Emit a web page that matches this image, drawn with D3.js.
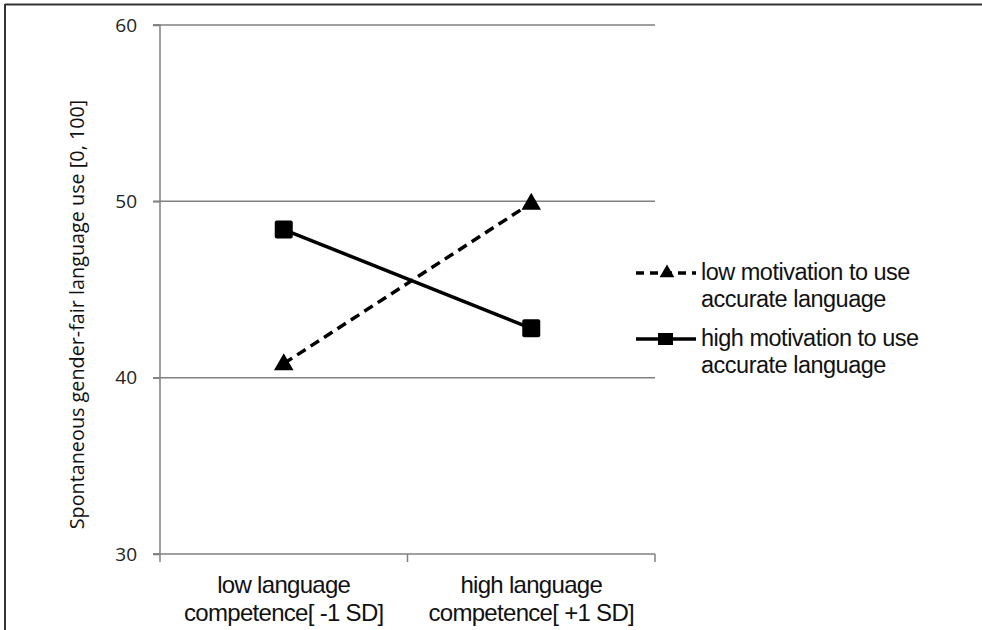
<!DOCTYPE html>
<html><head><meta charset="utf-8">
<script src="https://cdn.jsdelivr.net/npm/d3@7"></script>
<style>body{margin:0;background:#fff}svg{display:block}</style>
</head><body>
<svg id="c" width="982" height="630"></svg>
<script>
const categories = [["low language", "competence[ -1 SD]"], ["high language", "competence[ +1 SD]"]];
const seriesNames = [["low motivation to use", "accurate language"], ["high motivation to use", "accurate language"]];
const lowMotivation = [40.8, 49.9];
const highMotivation = [48.4, 42.8];
const yTicks = [30, 40, 50, 60];
const yTitle = "Spontaneous gender-fair language use [0, 100]";

const svg = d3.select("#c");
const L = 160, R = 655, T = 25, B = 554;
const x = d3.scaleBand().domain([0,1]).range([L, R]);
const y = d3.scaleLinear().domain([30, 60]).range([B, T]);
const gray = "#808080";

// outer frame (top & left)
svg.append("line").attr("x1",5).attr("x2",982).attr("y1",4.5).attr("y2",4.5).attr("stroke","#333").attr("stroke-width",2);
svg.append("line").attr("x1",5).attr("x2",5).attr("y1",4).attr("y2",630).attr("stroke","#333").attr("stroke-width",2);

// gridlines
svg.append("g").selectAll("line").data(yTicks.filter(d=>d>30)).join("line")
  .attr("x1", L-7).attr("x2", R).attr("y1", d=>y(d)).attr("y2", d=>y(d))
  .attr("stroke",gray).attr("stroke-width",1.5);

// y axis
const yAxis = d3.axisLeft(y).tickValues(yTicks).tickSize(7).tickPadding(16).tickFormat(d3.format("d"));
const gy = svg.append("g").attr("transform",`translate(${L},0)`).call(yAxis);
gy.select(".domain").attr("stroke",gray).attr("stroke-width",1.5).attr("d",`M-7,${T}H0V${B}H-7`);
gy.selectAll(".tick line").attr("stroke",gray).attr("stroke-width",1.5);
gy.selectAll("text").attr("font-family","'Open Sans', sans-serif").attr("font-size",19).attr("fill","#222");

// x axis
svg.append("line").attr("x1",L-7).attr("x2",R).attr("y1",B).attr("y2",B).attr("stroke",gray).attr("stroke-width",1.5);
const xt = [L, L + x.bandwidth(), R];
svg.append("g").selectAll("line").data(xt).join("line")
  .attr("x1",d=>d).attr("x2",d=>d).attr("y1",B).attr("y2",B+8).attr("stroke",gray).attr("stroke-width",1.5);

const xl = svg.append("g").selectAll("text").data(categories).join("text")
  .attr("x",(d,i)=>x(i)+x.bandwidth()/2).attr("y",593)
  .attr("text-anchor","middle").attr("font-family","'Liberation Sans', Arial, sans-serif").attr("font-size",24).attr("fill","#111")
  .attr("letter-spacing","-0.7");
xl.selectAll("tspan").data(d=>d).join("tspan").attr("x",function(){return this.parentNode.getAttribute("x");})
  .attr("dy",(d,i)=>i===0?0:28).text(d=>d);

// y title
svg.append("text").attr("transform",`translate(84,${(T+B)/2+25}) rotate(-90)`)
  .attr("text-anchor","middle").attr("font-family","'Open Sans', sans-serif").attr("font-size",19.8).attr("fill","#111")
  .text(yTitle);

const cx = i => x(i) + x.bandwidth()/2;
const line = d3.line().x((d,i)=>cx(i)).y(d=>y(d));

// series lines
svg.append("path").datum(lowMotivation).attr("d",line).attr("fill","none").attr("stroke","#000")
  .attr("stroke-width",3.5).attr("stroke-dasharray","10,6");
svg.append("path").datum(highMotivation).attr("d",line).attr("fill","none").attr("stroke","#000")
  .attr("stroke-width",3.5);

const tri = d3.symbol().type(d3.symbolTriangle).size(165);
svg.append("g").selectAll("path").data(lowMotivation).join("path")
  .attr("d",tri).attr("transform",(d,i)=>`translate(${cx(i)},${y(d)+1})`).attr("fill","#000");
svg.append("g").selectAll("rect").data(highMotivation).join("rect")
  .attr("x",(d,i)=>cx(i)-9).attr("y",d=>y(d)-9).attr("width",18).attr("height",18).attr("rx",2).attr("fill","#000");

// legend
const lg = svg.append("g");
const ly = [273, 339];
lg.append("line").attr("x1",636).attr("x2",696).attr("y1",ly[0]).attr("y2",ly[0]).attr("stroke","#000").attr("stroke-width",3.5).attr("stroke-dasharray","8,6");
lg.append("path").attr("d",d3.symbol().type(d3.symbolTriangle).size(95)).attr("transform",`translate(667,${ly[0]})`).attr("fill","#000");
lg.append("line").attr("x1",636).attr("x2",696).attr("y1",ly[1]).attr("y2",ly[1]).attr("stroke","#000").attr("stroke-width",3.5);
lg.append("rect").attr("x",658).attr("y",ly[1]-6).attr("width",15).attr("height",12).attr("fill","#000");
const lt = lg.selectAll("text.leg").data(seriesNames).join("text").attr("class","leg")
  .attr("x",701).attr("y",(d,i)=>ly[i]+7)
  .attr("font-family","'Liberation Sans', Arial, sans-serif").attr("font-size",23.5).attr("fill","#111").attr("letter-spacing","-0.5");
lt.selectAll("tspan").data(d=>d).join("tspan").attr("x",701).attr("dy",(d,i)=>i===0?0:27).text(d=>d);
</script>
</body></html>
